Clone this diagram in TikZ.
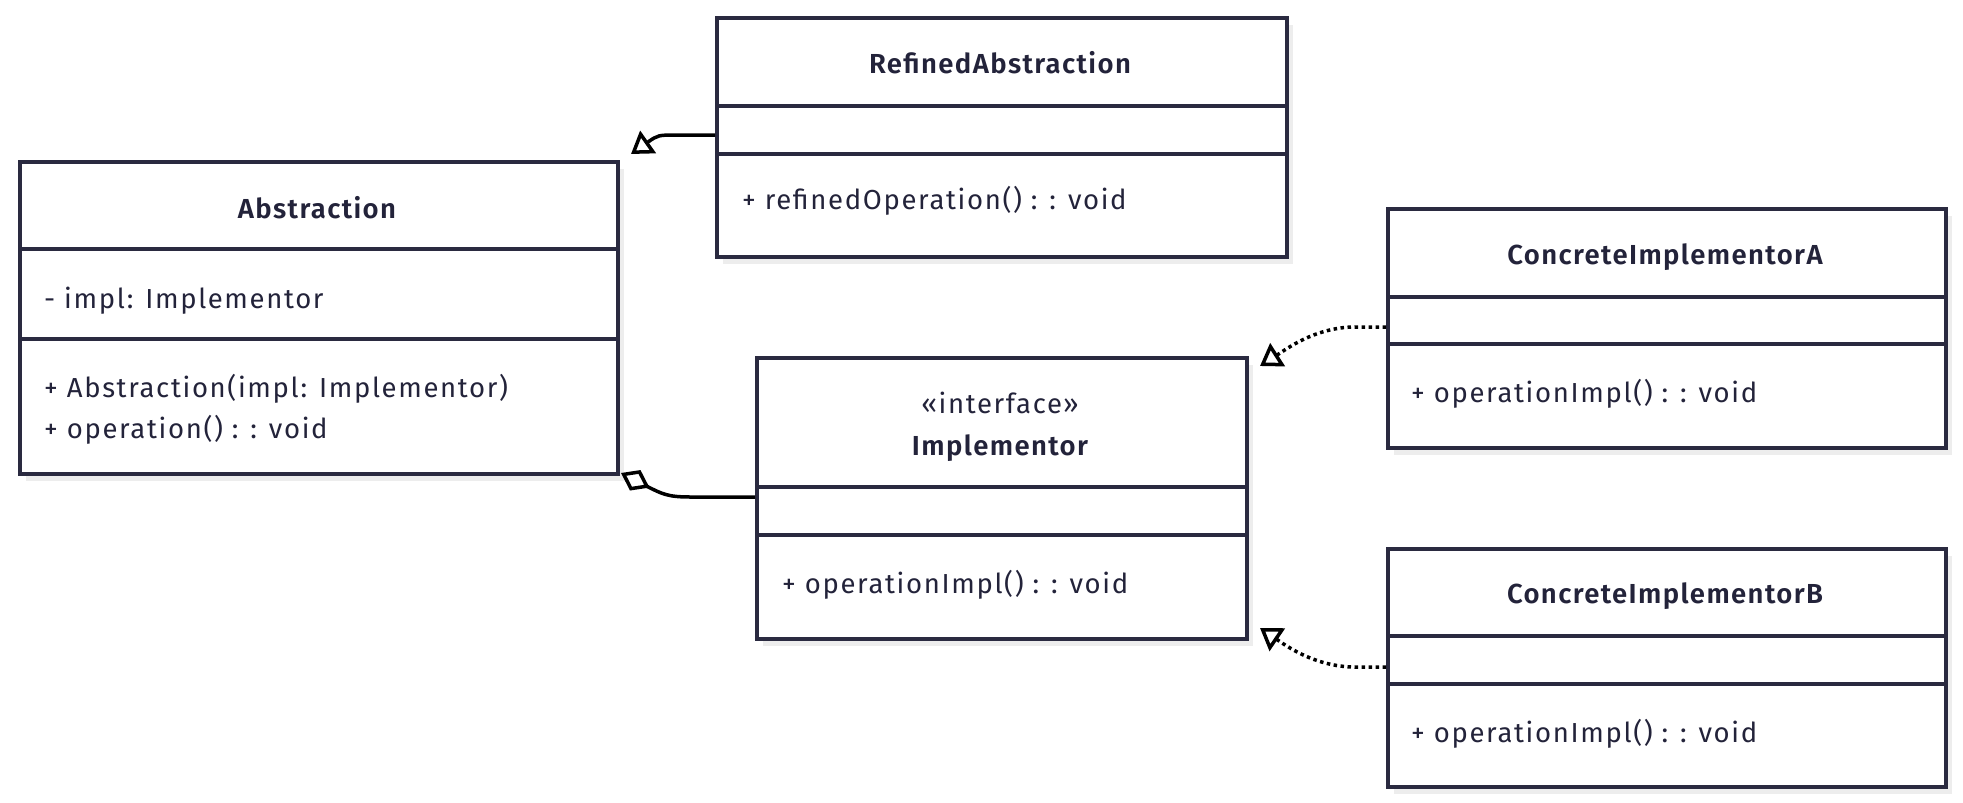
\documentclass[tikz,border=0pt]{standalone}
\usepackage{fontspec}
\setmainfont{Fira Sans}[BoldFont={Fira Sans SemiBold}, LetterSpace=6, BoldFeatures={LetterSpace=5}]
\usetikzlibrary{arrows.meta,shadows}
\definecolor{border}{HTML}{2A2A40}
\definecolor{txt}{HTML}{23233A}
\definecolor{shade}{HTML}{EDEDED}
\begin{document}
\begin{tikzpicture}[x=1pt,y=-1pt,
  classbox/.style={draw=border, line width=3.5pt, fill=white, inner sep=0pt, anchor=north west,
    drop shadow={shadow xshift=6pt, shadow yshift=-7pt, fill=shade, opacity=1}},
  sepline/.style={draw=border, line width=3.5pt},
  titletext/.style={font=\fontsize{27.5}{32}\selectfont\bfseries, text=txt, anchor=base, inner sep=0pt},
  stereotext/.style={font=\fontsize{27.5}{32}\selectfont, text=txt, anchor=base, inner sep=0pt},
  membertext/.style={font=\fontsize{27.5}{32}\selectfont, text=txt, anchor=base west, inner sep=0pt},
  conn/.style={line width=3.5pt, draw=black},
  dotconn/.style={line width=3.5pt, draw=black, dash pattern=on 3.5pt off 3.5pt},
  inherit/.style={-{Triangle[open, length=21pt, width=27pt]}},
  aggreg/.style={-{Diamond[open, length=32pt, width=23pt]}}
]
\path[use as bounding box, fill=white] (0,0) rectangle (1963,803);

% Abstraction
\node[classbox, minimum width=598pt, minimum height=312pt] (abs) at (18,160) {};
\draw[sepline] ([yshift=-89pt]abs.north west) -- ([yshift=-89pt]abs.north east);
\draw[sepline] ([yshift=-179pt]abs.north west) -- ([yshift=-179pt]abs.north east);
\node[titletext] (absT) at (317,218) {Abstraction};
\node[membertext] (absA) at (44,308) {- impl: Implementor};
\node[membertext] (absM1) at (44,397) {+ Abstraction(impl: Implementor)};
\node[membertext] (absM2) at (44,438) {+ operation() : : void};

% RefinedAbstraction
\node[classbox, minimum width=570pt, minimum height=239pt] (ra) at (715,16) {};
\draw[sepline] ([yshift=-90pt]ra.north west) -- ([yshift=-90pt]ra.north east);
\draw[sepline] ([yshift=-138pt]ra.north west) -- ([yshift=-138pt]ra.north east);
\node[titletext] (raT) at (1000,73) {RefinedAbstraction};
\node[membertext] (raM) at (742,209) {+ refinedOperation() : : void};

% Implementor
\node[classbox, minimum width=490pt, minimum height=281pt] (impl) at (755,356) {};
\draw[sepline] ([yshift=-131pt]impl.north west) -- ([yshift=-131pt]impl.north east);
\draw[sepline] ([yshift=-179pt]impl.north west) -- ([yshift=-179pt]impl.north east);
\node[stereotext] (implS) at (1000,413) {«interface»};
\node[titletext] (implT) at (1000,455) {Implementor};
\node[membertext] (implM) at (782,593) {+ operationImpl() : : void};

% ConcreteImplementorA
\node[classbox, minimum width=558pt, minimum height=239pt] (cia) at (1386,207) {};
\draw[sepline] ([yshift=-90pt]cia.north west) -- ([yshift=-90pt]cia.north east);
\draw[sepline] ([yshift=-137pt]cia.north west) -- ([yshift=-137pt]cia.north east);
\node[titletext] (ciaT) at (1665,264) {ConcreteImplementorA};
\node[membertext] (ciaM) at (1411,402) {+ operationImpl() : : void};

% ConcreteImplementorB
\node[classbox, minimum width=558pt, minimum height=238pt] (cib) at (1386,547) {};
\draw[sepline] ([yshift=-89pt]cib.north west) -- ([yshift=-89pt]cib.north east);
\draw[sepline] ([yshift=-137pt]cib.north west) -- ([yshift=-137pt]cib.north east);
\node[titletext] (cibT) at (1665,603) {ConcreteImplementorB};
\node[membertext] (cibM) at (1411,742) {+ operationImpl() : : void};

% connector end points
\coordinate (raTip) at (631,154);
\coordinate (aggTip) at (621,473);
\coordinate (ciaTip) at (1260,366);
\coordinate (cibTip) at (1260,628);

% connectors
\draw[conn, inherit] ([yshift=-119pt]ra.north west) -- (678,135) .. controls (658,135) .. (raTip);
\draw[conn, aggreg] ([yshift=-141pt]impl.north west) -- (690,497) .. controls (668,497) and (662,494) .. (aggTip);
\draw[dotconn, inherit] ([yshift=-120pt]cia.north west) -- (1355,327) .. controls (1315,327) and (1285,350) .. (ciaTip);
\draw[dotconn, inherit] ([yshift=-120pt]cib.north west) -- (1355,667) .. controls (1315,667) and (1285,645) .. (cibTip);
\end{tikzpicture}
\end{document}
